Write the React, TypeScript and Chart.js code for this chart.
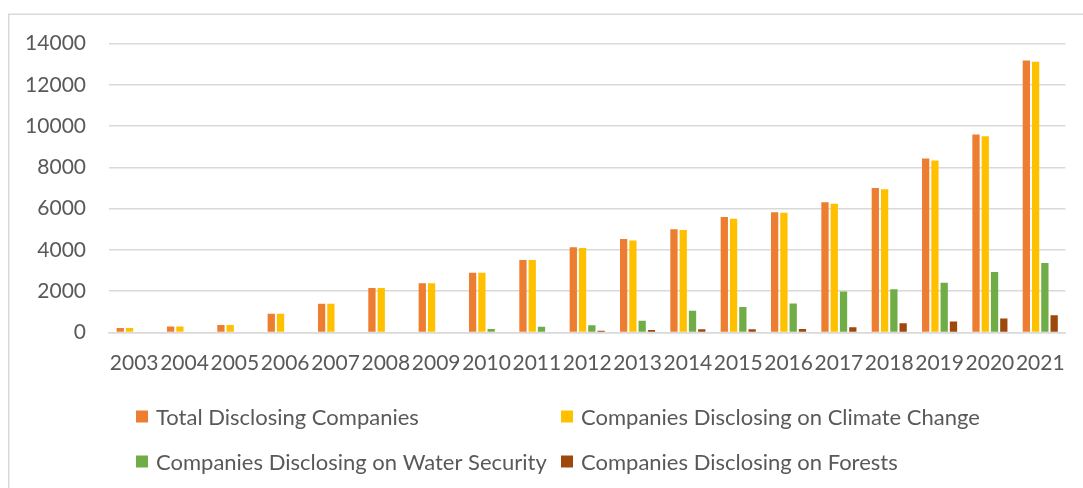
import React, { useEffect, useRef } from "react";
import { Chart, registerables } from "chart.js";

Chart.register(...registerables);

const years = ["2003","2004","2005","2006","2007","2008","2009","2010","2011","2012","2013","2014","2015","2016","2017","2018","2019","2020","2021"];
const totalDisclosing = [220, 290, 360, 905, 1390, 2160, 2380, 2895, 3510, 4125, 4525, 5000, 5600, 5830, 6310, 7000, 8430, 9590, 13180];
const climateChange = [220, 290, 360, 905, 1390, 2160, 2380, 2895, 3510, 4090, 4460, 4960, 5510, 5800, 6240, 6935, 8335, 9510, 13115];
const waterSecurity = [null, null, null, null, null, null, null, 170, 280, 350, 570, 1055, 1235, 1410, 1985, 2095, 2410, 2930, 3365];
const forests = [null, null, null, null, null, null, null, null, null, 90, 120, 155, 160, 175, 255, 450, 530, 675, 840];

const seriesLabels = [
  "Total Disclosing Companies",
  "Companies Disclosing on Climate Change",
  "Companies Disclosing on Water Security",
  "Companies Disclosing on Forests",
];
const seriesColors = ["#ED7D31", "#FFC000", "#70AD47", "#9E480E"];

const TEXT = "#595959";
const GRID = "#d9d9d9";
const FONT = "Lato";

const framePlugin = {
  id: "frame",
  beforeDraw(chart: any) {
    const ctx = chart.ctx;
    ctx.save();
    ctx.fillStyle = "#ffffff";
    ctx.fillRect(0, 0, chart.width, chart.height);
    ctx.strokeStyle = GRID;
    ctx.lineWidth = 1.5;
    ctx.strokeRect(8.75, 14.25, chart.width + 10, chart.height + 10);
    ctx.restore();
  },
};

const gridLegendPlugin = {
  id: "gridLegend",
  afterDraw(chart: any) {
    const ctx = chart.ctx;
    const cols = [136, 561];
    const rows = [416.5, 461.5];
    ctx.save();
    ctx.font = `22px ${FONT}`;
    ctx.textBaseline = "middle";
    ctx.textAlign = "left";
    chart.data.datasets.forEach((ds: any, i: number) => {
      const x = cols[i % 2];
      const y = rows[Math.floor(i / 2)];
      ctx.fillStyle = ds.backgroundColor;
      ctx.fillRect(x, y - 6, 12, 12);
      ctx.fillStyle = TEXT;
      ctx.fillText(ds.label, x + 20, y + 1);
    });
    ctx.restore();
  },
};

export default function App() {
  const ref = useRef<HTMLCanvasElement | null>(null);

  useEffect(() => {
    if (!ref.current) return;
    const series = [totalDisclosing, climateChange, waterSecurity, forests];
    const chart = new Chart(ref.current, {
      type: "bar",
      data: {
        labels: years,
        datasets: series.map((d, i) => ({
          label: seriesLabels[i],
          data: d as any,
          backgroundColor: seriesColors[i],
          borderWidth: 0,
          barPercentage: 0.785,
          categoryPercentage: 0.737,
        })),
      },
      options: {
        animation: false,
        responsive: false,
        maintainAspectRatio: false,
        layout: { padding: { left: 0, right: 15, top: 43.5, bottom: 95.5 } },
        plugins: {
          legend: { display: false },
          tooltip: { enabled: false },
        },
        scales: {
          x: {
            grid: { display: false, drawTicks: false },
            border: { display: true, color: GRID, width: 1.5 },
            ticks: {
              color: TEXT,
              font: { family: FONT, size: 21 },
              autoSkip: false,
              maxRotation: 0,
              minRotation: 0,
              padding: 18,
            },
            afterFit(scale: any) {
              scale.height = 60;
            },
          },
          y: {
            min: 0,
            max: 14000,
            grid: { color: GRID, lineWidth: 1.5, drawTicks: false },
            border: { display: false },
            ticks: {
              stepSize: 2000,
              color: TEXT,
              font: { family: FONT, size: 21 },
              padding: 23,
              callback: (v: any) => String(v),
            },
            afterFit(scale: any) {
              scale.width = 109;
            },
          },
        },
      },
      plugins: [framePlugin, gridLegendPlugin],
    });
    return () => chart.destroy();
  }, []);

  return (
    <div style={{ position: "fixed", left: 0, top: 0, width: 1083, height: 488, background: "#fff" }}>
      <canvas ref={ref} width={1083} height={488} style={{ display: "block", width: 1083, height: 488 }} />
    </div>
  );
}
